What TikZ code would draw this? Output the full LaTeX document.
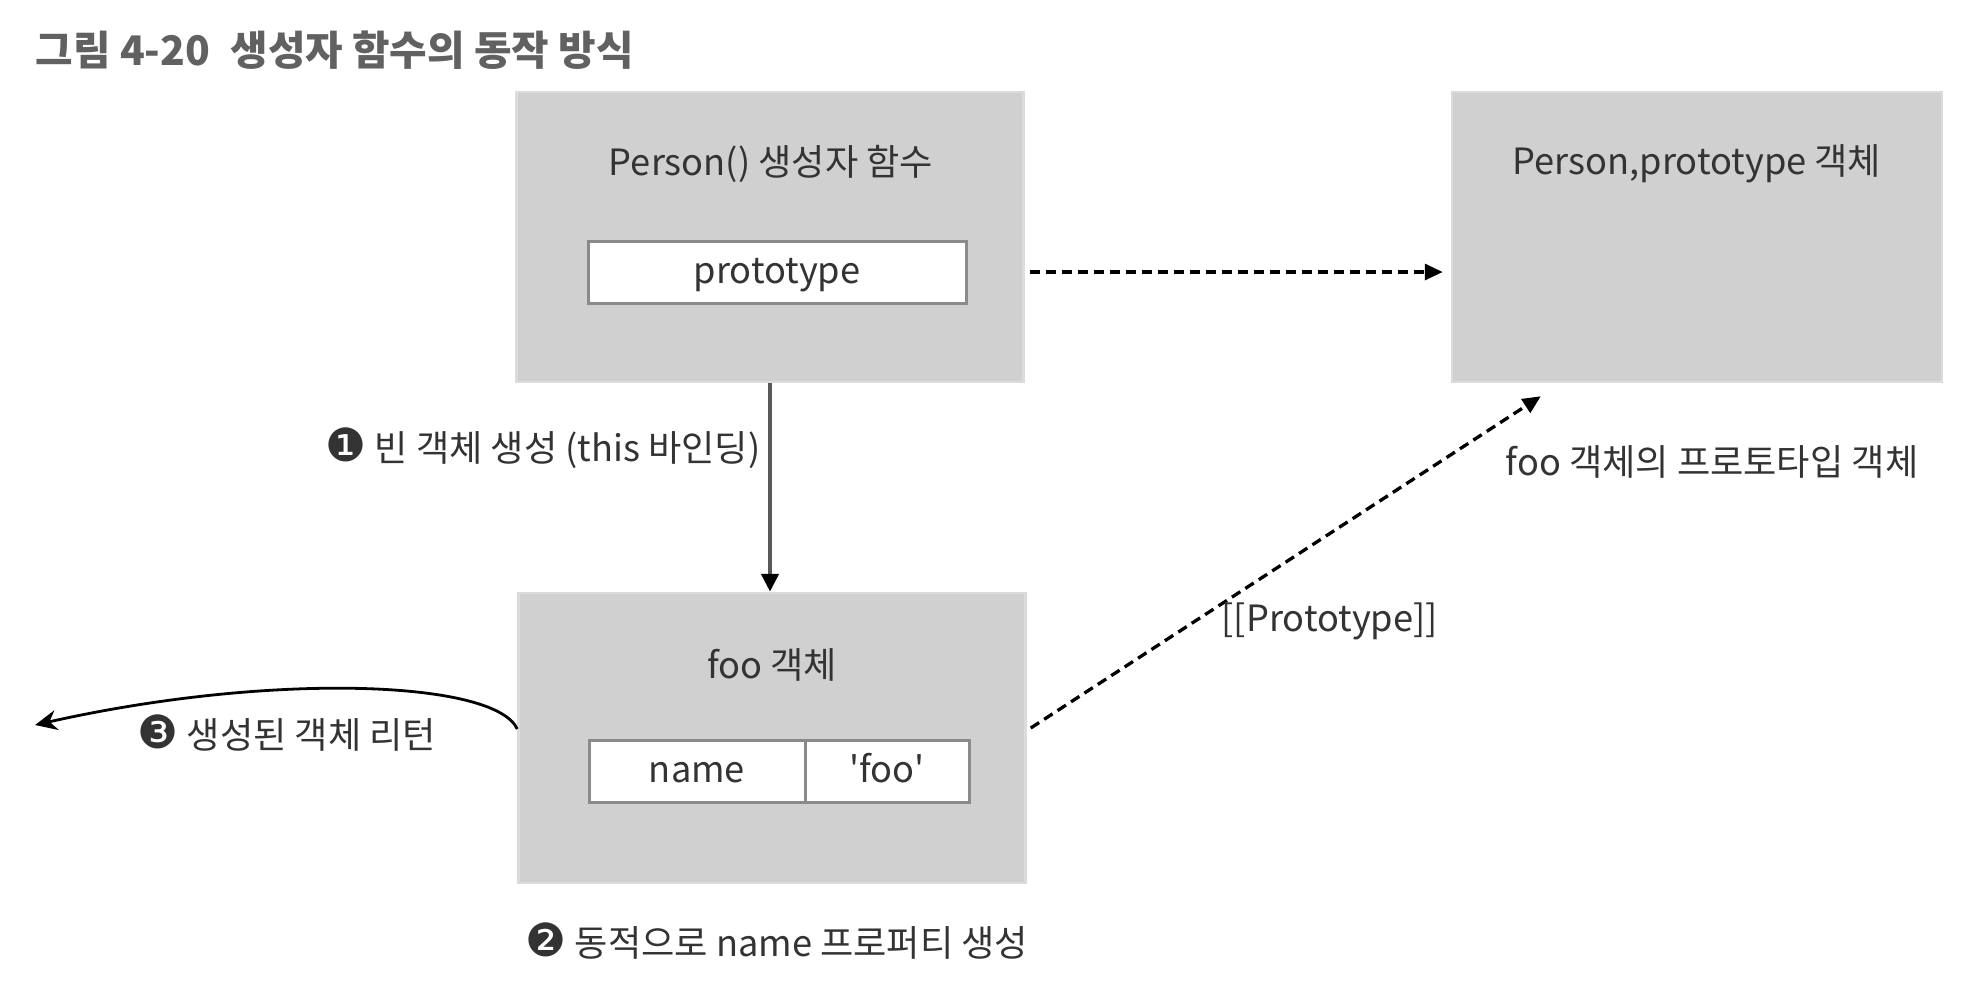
\documentclass[tikz,border=0pt]{standalone}
\usepackage{fontspec}
\setmainfont{Noto Sans CJK KR}
\newfontfamily\djv{DejaVu Sans}
\usetikzlibrary{arrows.meta}
\definecolor{boxgray}{HTML}{D0D0D0}
\definecolor{boxedge}{HTML}{DCDCDC}
\definecolor{txt}{HTML}{333333}
\definecolor{edge}{HTML}{8A8A8A}
\newcommand{\circnum}[1]{{\djv\fontsize{13}{13}\selectfont #1}}
\begin{document}
\begin{tikzpicture}[x=0.1mm,y=-0.1mm,
 bigbox/.style={fill=boxgray, draw=boxedge, line width=0.25mm, minimum width=50.7mm, minimum height=29mm, inner sep=0},
 field/.style={fill=white, draw=edge, line width=0.3mm, minimum height=6.2mm, text height=2.6mm, text depth=0.4mm, inner sep=0, font=\fontsize{10.3}{12}\selectfont, text=txt},
 lbl/.style={text=txt, font=\fontsize{10.3}{12}\selectfont, inner sep=0},
 dasharrow/.style={dash pattern=on 1mm off 0.6mm, line width=0.33mm, -{Triangle[length=1.8mm,width=1.6mm]}},
]
\useasboundingbox (0,0) rectangle (1978,982);
\node[lbl, anchor=west, font=\fontsize{11.6}{14}\selectfont\bfseries, text=black!62] (title) at (35,50) {그림 4-20\enspace 생성자 함수의 동작 방식};

\node[bigbox] (ctor) at (770,237) {};
\node[bigbox, minimum width=49mm] (pobj) at (1697,237) {};
\node[bigbox] (foo) at (772,738) {};

\node[lbl] (ctortitle) at (771,164) {Person() 생성자 함수};
\node[field, minimum width=37.8mm] (protof) at (777,272) {prototype};
\node[lbl] (pobjtitle) at (1697,164) {Person,prototype 객체};
\node[lbl] (footitle) at (772,665) {foo 객체};
\node[field, minimum width=21.6mm] (namef) at (697,771) {name};
\node[field, minimum width=16.4mm] (valf) at (887,771) {\textquotesingle foo\textquotesingle};

\draw[line width=0.45mm, draw=black!65, -{Triangle[length=1.8mm,width=1.7mm,color=black]}] (ctor.south) -- (ctor.south |- foo.north);
\node[lbl] (step1) at (543,448) {\circnum{❶} 빈 객체 생성 (this 바인딩)};

\draw[dasharrow, shorten <=0.5mm, shorten >=0.8mm] (ctor.east |- protof) -- (pobj.west |- protof);

\coordinate (pend) at ([xshift=9mm,yshift=-1.3mm]pobj.south west);
\draw[dasharrow] ([xshift=0.4mm,yshift=1mm]foo.east) -- (pend);
\node[lbl, anchor=west] (plabel) at (1221,621) {[[Prototype]]};
\node[lbl] (fooproto) at (1712,462) {foo 객체의 프로토타입 객체};

\coordinate (ret) at (35,725);
\draw[line width=0.28mm, -{Stealth[length=2.2mm,width=2mm]}] ([yshift=0.9mm]foo.west) .. controls (495,680) and (270,672) .. (ret);
\node[lbl] (step3) at (287,733) {\circnum{❸} 생성된 객체 리턴};
\node[lbl] (step2) at (777,941) {\circnum{❷} 동적으로 name 프로퍼티 생성};
\end{tikzpicture}
\end{document}
